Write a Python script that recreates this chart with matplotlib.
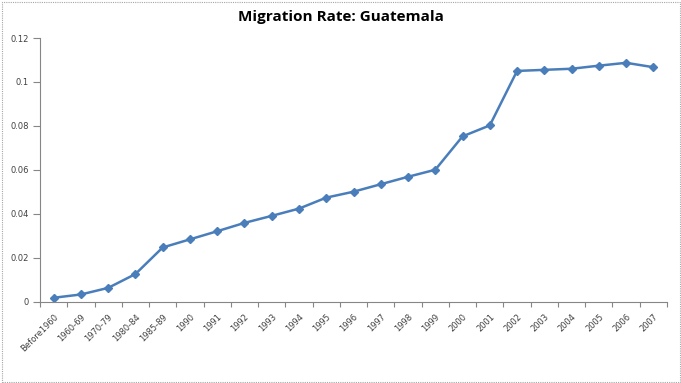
import matplotlib
matplotlib.use("Agg")
import matplotlib.pyplot as plt
from matplotlib.patches import Rectangle
import numpy as np

categories = ["Before1960", "1960-69", "1970-79", "1980-84", "1985-89",
              "1990", "1991", "1992", "1993", "1994", "1995", "1996", "1997",
              "1998", "1999", "2000", "2001", "2002", "2003", "2004", "2005",
              "2006", "2007"]
rates = [0.0017, 0.0032, 0.0062, 0.0125, 0.0246, 0.0283, 0.0320, 0.0358,
         0.0390, 0.0423, 0.0473, 0.0500, 0.0534, 0.0568, 0.0600, 0.0752,
         0.0802, 0.1050, 0.1055, 0.1060, 0.1074, 0.1087, 0.1067]
y_ticks = [0, 0.02, 0.04, 0.06, 0.08, 0.1, 0.12]
y_tick_labels = ["0", "0.02", "0.04", "0.06", "0.08", "0.1", "0.12"]

W, H = 681, 383
fig = plt.figure(figsize=(W / 100, H / 100), dpi=100)
fig.patch.set_facecolor("white")

# outer chart-area frame
fig.patches.append(Rectangle((1.5 / W, 1.5 / H), (W - 3) / W, (H - 3) / H,
                             transform=fig.transFigure, fill=False,
                             edgecolor="#a6a6a6", linewidth=0.8,
                             linestyle=(0, (1, 1))))

ax = fig.add_axes([40 / W, 1 - 301.5 / H, 627 / W, 263.5 / H])
x = np.arange(len(categories))
ax.plot(x, rates, color="#4a7ebb", linewidth=1.8, marker="D", markersize=4,
        markerfacecolor="#4a7ebb", markeredgecolor="#4a7ebb")

ax.set_xlim(-0.5, len(categories) - 0.5)
ax.set_ylim(0, 0.12)
ax.set_yticks(y_ticks)
ax.set_yticklabels(y_tick_labels, fontsize=6, color="#404040")

ax.set_xticks(x)
ax.set_xticklabels(categories, rotation=45, ha="right", rotation_mode="anchor",
                   fontsize=6, color="#404040")
ax.set_xticks(np.arange(len(categories) + 1) - 0.5, minor=True)
ax.tick_params(axis="x", which="major", length=0, pad=8)
ax.tick_params(axis="x", which="minor", length=3.5, color="#868686", width=0.8)
ax.tick_params(axis="y", length=5, color="#868686", width=0.8, pad=3)

for side in ("top", "right"):
    ax.spines[side].set_visible(False)
for side in ("left", "bottom"):
    ax.spines[side].set_color("#868686")
    ax.spines[side].set_linewidth(0.8)

fig.text(0.5, 1 - 17 / H, "Migration Rate: Guatemala", ha="center",
         va="center", fontsize=11, fontweight="bold", family="Open Sans",
         color="black")

fig.savefig("out.png", dpi=100, facecolor="white")
